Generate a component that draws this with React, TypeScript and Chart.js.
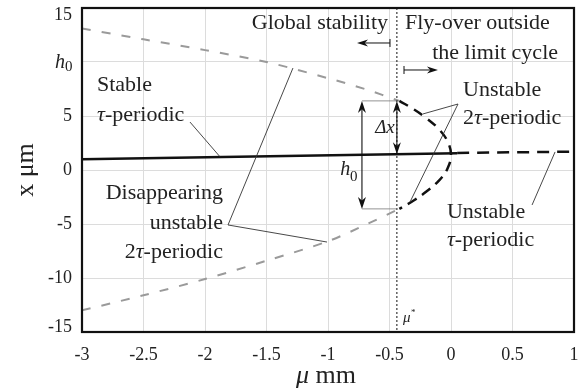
import React, { useEffect, useRef } from 'react';
import { Chart, registerables } from 'chart.js';

Chart.register(...registerables);

const FONT = '"Liberation Serif", "Times New Roman", serif';

// Stable tau-periodic branch (solid)
const stableMu = [-3, 0.05];
const stableX = [1.0, 1.55];
// Unstable tau-periodic branch (black dashed, right)
const unstTauMu = [0.05, 1];
const unstTauX = [1.58, 1.7];
// Unstable 2tau-periodic (black dashed loop)
const loopMu = [-0.42, -0.3, -0.2, -0.1, -0.03, 0, -0.03, -0.1, -0.2, -0.3, -0.42];
const loopX = [6.4, 5.6, 4.8, 3.8, 2.7, 1.4, 0.1, -1.0, -2.0, -2.8, -3.6];
// Disappearing unstable 2tau-periodic (grey dashed)
const upperMu = [-3, -2.5, -2, -1.5, -1, -0.7, -0.42];
const upperX = [13.1, 12.1, 11.1, 10.0, 8.5, 7.5, 6.4];
const lowerMu = [-3, -2.5, -2, -1.5, -1, -0.7, -0.42];
const lowerX = [-13.0, -11.6, -10.1, -8.4, -6.6, -5.1, -3.6];
// critical parameter and amplitudes
const muStar = -0.44;
const h0Top = 6.4;
const h0Bottom = -3.6;
const dxBottom = 1.45;

const yTickValues = [-15, -10, -5, 0, 5, 10, 15];
const xTickValues = [-3, -2.5, -2, -1.5, -1, -0.5, 0, 0.5, 1];

type Seg = { t: string; it?: boolean };

export default function App() {
  const ref = useRef<HTMLCanvasElement>(null);

  useEffect(() => {
    const canvas = ref.current!;
    const pts = (a: number[], b: number[]) => a.map((m, i) => ({ x: m, y: b[i] }));

    const annot = {
      id: 'annot',
      afterDraw(chart: any) {
        const c: CanvasRenderingContext2D = chart.ctx;
        const xs = chart.scales.x;
        const ys = chart.scales.y;
        const px = (m: number) => xs.getPixelForValue(m);
        const py = (v: number) => ys.getPixelForValue(v);
        const ca = chart.chartArea;
        const TXT = '#222';

        const rich = (segs: Seg[], x: number, y: number, align: 'left' | 'right' | 'center', size: number) => {
          c.save();
          c.textBaseline = 'middle';
          c.fillStyle = TXT;
          let total = 0;
          const widths = segs.map((s) => {
            c.font = `${s.it ? 'italic ' : ''}${size}px ${FONT}`;
            const w = c.measureText(s.t).width;
            total += w;
            return w;
          });
          let cx = align === 'left' ? x : align === 'right' ? x - total : x - total / 2;
          c.textAlign = 'left';
          segs.forEach((s, i) => {
            c.font = `${s.it ? 'italic ' : ''}${size}px ${FONT}`;
            c.fillText(s.t, cx, y);
            cx += widths[i];
          });
          c.restore();
        };

        const line = (x1: number, y1: number, x2: number, y2: number, w: number, col: string, dash: number[] = []) => {
          c.save();
          c.strokeStyle = col;
          c.lineWidth = w;
          c.setLineDash(dash);
          c.beginPath();
          c.moveTo(x1, y1);
          c.lineTo(x2, y2);
          c.stroke();
          c.restore();
        };

        const head = (x1: number, y1: number, x2: number, y2: number, len = 11, hw = 4) => {
          const a = Math.atan2(y2 - y1, x2 - x1);
          const cos = Math.cos(a), sin = Math.sin(a);
          const bx = x2 - cos * len, by = y2 - sin * len;
          const nx = x2 - cos * len * 0.7, ny = y2 - sin * len * 0.7;
          c.save();
          c.fillStyle = '#111';
          c.beginPath();
          c.moveTo(x2, y2);
          c.lineTo(bx - sin * hw, by + cos * hw);
          c.lineTo(nx, ny);
          c.lineTo(bx + sin * hw, by - cos * hw);
          c.closePath();
          c.fill();
          c.restore();
        };

        // mu* dotted line
        line(px(muStar), ca.top, px(muStar), ca.bottom, 1, '#111', [2, 2]);

        // frame
        c.save();
        c.strokeStyle = '#111';
        c.lineWidth = 2.2;
        c.strokeRect(ca.left, ca.top, ca.right - ca.left, ca.bottom - ca.top);
        c.restore();

        // Top labels
        rich([{ t: 'Global stability' }], px(-0.512), py(13.6), 'right', 22);
        rich([{ t: 'Fly-over outside' }], px(-0.374), py(13.6), 'left', 22);
        rich([{ t: 'the limit cycle' }], px(0.87), py(10.83), 'right', 22);
        // left arrow |<--
        line(px(-0.496), py(11.76), px(-0.74), py(11.76), 1, '#111');
        line(px(-0.496), py(11.76) - 4, px(-0.496), py(11.76) + 4, 1, '#111');
        head(px(-0.496), py(11.76), px(-0.764), py(11.76), 11, 3.5);
        // right arrow |-->
        line(px(-0.382), py(9.26), px(-0.13), py(9.26), 1, '#111');
        line(px(-0.382), py(9.26) - 4, px(-0.382), py(9.26) + 4, 1, '#111');
        head(px(-0.382), py(9.26), px(-0.106), py(9.26), 11, 3.5);

        // Unstable 2tau-periodic (right)
        rich([{ t: 'Unstable' }], px(0.098), py(7.41), 'left', 22);
        rich([{ t: '2' }, { t: 'τ', it: true }, { t: '-periodic' }], px(0.098), py(4.81), 'left', 22);
        line(px(0.057), py(6.11), px(-0.228), py(5.19), 0.9, '#333');
        line(px(0.057), py(6.11), px(-0.333), py(-2.96), 0.9, '#333');

        // Stable tau-periodic
        rich([{ t: 'Stable' }], px(-2.878), py(7.87), 'left', 22);
        rich([{ t: 'τ', it: true }, { t: '-periodic' }], px(-2.878), py(5.09), 'left', 22);
        line(px(-2.122), py(4.44), px(-1.88), py(1.25), 0.9, '#333');

        // Disappearing unstable 2tau-periodic
        rich([{ t: 'Disappearing' }], px(-1.854), py(-2.13), 'right', 22);
        rich([{ t: 'unstable' }], px(-1.854), py(-4.91), 'right', 22);
        rich([{ t: '2' }, { t: 'τ', it: true }, { t: '-periodic' }], px(-1.854), py(-7.59), 'right', 22);
        c.save();
        c.strokeStyle = '#333';
        c.lineWidth = 0.9;
        c.beginPath();
        c.moveTo(px(-1.285), py(9.44));
        c.lineTo(px(-1.813), py(-5.09));
        c.lineTo(px(-1.008), py(-6.67));
        c.stroke();
        c.restore();

        // Unstable tau-periodic (lower right)
        rich([{ t: 'Unstable' }], px(-0.033), py(-3.89), 'left', 22);
        rich([{ t: 'τ', it: true }, { t: '-periodic' }], px(-0.033), py(-6.48), 'left', 22);
        line(px(0.659), py(-3.24), px(0.846), py(1.67), 0.9, '#333');

        // h0 helper lines
        line(px(-0.724), py(h0Top), px(muStar), py(h0Top), 0.8, '#777');
        line(px(-0.724), py(h0Bottom), px(muStar), py(h0Bottom), 0.8, '#777');
        // h0 double arrow
        line(px(-0.724), py(h0Top) + 5, px(-0.724), py(h0Bottom) - 5, 1.1, '#111');
        head(px(-0.724), py(2), px(-0.724), py(h0Top), 12, 4);
        head(px(-0.724), py(0), px(-0.724), py(h0Bottom), 12, 4);
        rich([{ t: 'h', it: true }], px(-0.86), py(0.0), 'center', 20);
        rich([{ t: '0' }], px(-0.79), py(-0.7), 'center', 15);
        // delta x double arrow
        line(px(muStar), py(h0Top) + 5, px(muStar), py(dxBottom) - 5, 1.1, '#111');
        head(px(muStar), py(4), px(muStar), py(h0Top), 12, 4);
        head(px(muStar), py(4), px(muStar), py(dxBottom), 12, 4);
        rich([{ t: 'Δx', it: true }], px(-0.537), py(3.9), 'center', 19);

        // mu* label
        rich([{ t: 'μ', it: true }], px(-0.39), py(-13.7), 'left', 15);
        rich([{ t: '*' }], px(-0.325), py(-13.2), 'left', 9);

        // y tick labels drawn by hand: h0 and the clamped end labels
        rich([{ t: 'h', it: true }], ca.left - 27, py(10) + 1, 'left', 20);
        rich([{ t: '0' }], ca.left - 17, py(10) + 5, 'left', 15);
        rich([{ t: '15' }], ca.left - 10, ca.top + 7, 'right', 18);
        rich([{ t: '-15' }], ca.left - 10, ca.bottom - 5, 'right', 18);

        // axis titles
        c.save();
        c.translate(26, (ca.top + ca.bottom) / 2);
        c.rotate(-Math.PI / 2);
        rich([{ t: 'x μm' }], 0, 0, 'center', 26);
        c.restore();
        rich([{ t: 'μ', it: true }, { t: ' mm' }], (ca.left + ca.right) / 2 - 2, 376, 'center', 26);
      },
    };

    const chart = new Chart(canvas, {
      type: 'scatter',
      data: {
        datasets: [
          {
            data: pts(upperMu, upperX),
            showLine: true,
            borderColor: '#9a9a9a',
            borderWidth: 2,
            borderDash: [9, 11],
            pointRadius: 0,
            tension: 0.3,
          },
          {
            data: pts(lowerMu, lowerX),
            showLine: true,
            borderColor: '#9a9a9a',
            borderWidth: 2,
            borderDash: [9, 11],
            pointRadius: 0,
            tension: 0.3,
          },
          {
            data: pts(loopMu, loopX),
            showLine: true,
            borderColor: '#111',
            borderWidth: 2.5,
            borderDash: [10, 7],
            pointRadius: 0,
            tension: 0.4,
          },
          {
            data: pts(stableMu, stableX),
            showLine: true,
            borderColor: '#111',
            borderWidth: 2.5,
            pointRadius: 0,
          },
          {
            data: pts(unstTauMu, unstTauX),
            showLine: true,
            borderColor: '#111',
            borderWidth: 2.5,
            borderDash: [12, 8],
            pointRadius: 0,
          },
        ] as any,
      },
      options: {
        responsive: false,
        animation: false,
        devicePixelRatio: 1,
        layout: { padding: { left: 0, top: 8, right: 12, bottom: 0 } },
        plugins: { legend: { display: false }, tooltip: { enabled: false } },
        scales: {
          x: {
            type: 'linear',
            min: -3,
            max: 1,
            afterBuildTicks: (s: any) => {
              s.ticks = xTickValues.map((v) => ({ value: v }));
            },
            afterFit: (s: any) => {
              s.height = 56;
              s.paddingLeft = 0;
              s.paddingRight = 0;
            },
            ticks: {
              padding: 12,
              color: '#222',
              font: { family: FONT, size: 18 },
              maxRotation: 0,
              autoSkip: false,
              callback: (v: any) => String(v),
            },
            grid: { color: '#dcdcdc', lineWidth: 1, drawTicks: false },
            border: { display: false },
          },
          y: {
            type: 'linear',
            min: -15,
            max: 15,
            afterBuildTicks: (s: any) => {
              s.ticks = yTickValues.map((v) => ({ value: v }));
            },
            afterFit: (s: any) => {
              s.width = 82;
              s.paddingTop = 0;
              s.paddingBottom = 0;
            },
            ticks: {
              padding: 10,
              color: '#222',
              font: { family: FONT, size: 18 },
              autoSkip: false,
              callback: (v: any) => (v === 10 || v === 15 || v === -15 ? '' : String(v)),
            },
            grid: { color: '#dcdcdc', lineWidth: 1, drawTicks: false },
            border: { display: false },
          },
        },
      },
      plugins: [annot],
    });
    return () => chart.destroy();
  }, []);

  return (
    <div style={{ position: 'fixed', left: 0, top: 0, width: 586, height: 388, background: '#fff' }}>
      <canvas ref={ref} width={586} height={388} style={{ width: 586, height: 388, display: 'block' }} />
    </div>
  );
}
